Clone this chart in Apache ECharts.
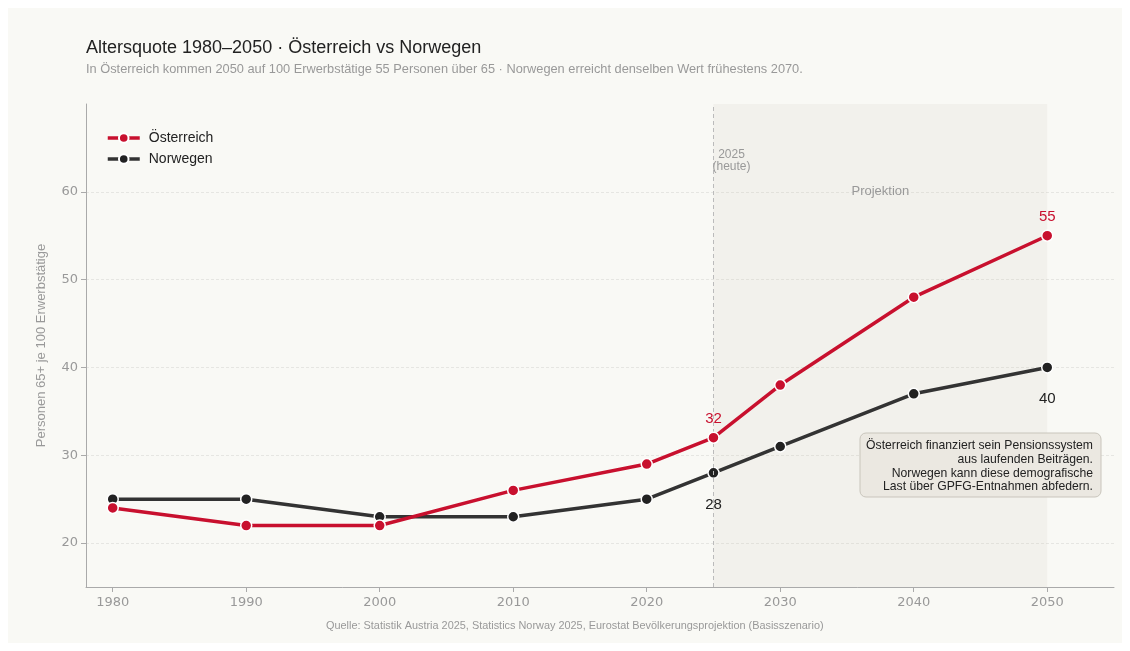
<!DOCTYPE html>
<html>
<head>
<meta charset="utf-8">
<script src="https://cdn.jsdelivr.net/npm/echarts@6/dist/echarts.min.js"></script>
<style>
html,body{margin:0;padding:0;background:#fff;}
#c{width:1130px;height:651px;}
</style>
</head>
<body>
<div id="c"></div>
<script>
const years = [1980, 1990, 2000, 2010, 2020, 2025, 2030, 2040, 2050];
const oesterreich = [24, 22, 22, 26, 29, 32, 38, 48, 55];
const norwegen = [25, 25, 23, 23, 25, 28, 31, 37, 40];
const xTicks = [1980, 1990, 2000, 2010, 2020, 2030, 2040, 2050];
const yTicks = [20, 30, 40, 50, 60];
const labelYearsAT = [2025, 2050];
const labelYearsNO = [2025, 2050];
const projStart = 2025, projEnd = 2050;
const noteLines = [
  'Österreich finanziert sein Pensionssystem',
  'aus laufenden Beiträgen.',
  'Norwegen kann diese demografische',
  'Last über GPFG-Entnahmen abfedern.'
];

const RED = '#c8102e', DARK = '#333333';
const SANS = '"Liberation Sans", Arial, sans-serif';
const TICKF = '"DejaVu Sans", sans-serif';

function mkData(vals, labelYears, color, above) {
  return years.map((y, i) => {
    const d = { value: [y, vals[i]] };
    if (labelYears.includes(y)) {
      d.label = {
        show: true, position: above ? 'top' : 'bottom',
        distance: above ? 5 : 18,
        formatter: String(vals[i]), color: color,
        fontSize: 15, fontFamily: SANS
      };
    }
    return d;
  });
}

const noteGraphics = [
  { type: 'rect', shape: { x: 860, y: 433, width: 241, height: 64, r: 6 },
    style: { fill: '#ebe8e1', stroke: '#c9c5bc', lineWidth: 1 }, z: 50, silent: true }
].concat(noteLines.map((t, i) => ({
  type: 'text', right: 37, top: 440 + i * 13.7, z: 51,
  style: { text: t, fill: '#222', font: '12.2px ' + SANS }
})));

const chart = echarts.init(document.getElementById('c'));
chart.setOption({
  backgroundColor: '#ffffff',
  animation: false,
  graphic: [
    { type: 'rect', shape: { x: 8, y: 8, width: 1114, height: 635 }, style: { fill: '#f9f9f5' }, z: -100, silent: true },
    { type: 'text', left: 86, top: 39, style: { text: 'Altersquote 1980–2050 · Österreich vs Norwegen', fill: '#222', font: '18px ' + SANS } },
    { type: 'text', left: 86, top: 63, style: { text: 'In Österreich kommen 2050 auf 100 Erwerbstätige 55 Personen über 65 · Norwegen erreicht denselben Wert frühestens 2070.', fill: '#999', font: '12.8px ' + SANS } },
    { type: 'text', left: 326, top: 620, style: { text: 'Quelle: Statistik Austria 2025, Statistics Norway 2025, Eurostat Bevölkerungsprojektion (Basisszenario)', fill: '#999', font: '10.9px ' + SANS } }
  ].concat(noteGraphics),
  legend: {
    left: 101, top: 126, orient: 'vertical', itemGap: 7,
    itemWidth: 32, itemHeight: 12,
    lineStyle: { width: 3.5 },
    textStyle: { fontSize: 14, fontFamily: SANS, color: '#222', padding: [0, 0, 0, 4] },
    data: ['Österreich', 'Norwegen']
  },
  grid: { left: 86, right: 16, top: 104, bottom: 64 },
  xAxis: {
    type: 'value', min: 1978, max: 2055,
    axisLine: { show: true, lineStyle: { color: '#aaa', width: 1 } },
    axisTick: { show: true, length: 5, lineStyle: { color: '#aaa' }, customValues: xTicks },
    axisLabel: { customValues: xTicks, color: '#999', fontSize: 13, fontFamily: TICKF, margin: 9, formatter: v => String(v) },
    splitLine: { show: false }
  },
  yAxis: {
    type: 'value', min: 15, max: 70,
    name: 'Personen 65+ je 100 Erwerbstätige', nameLocation: 'middle', nameGap: 38,
    nameTextStyle: { color: '#999', fontSize: 13, fontFamily: SANS },
    axisLine: { show: true, lineStyle: { color: '#aaa', width: 1 } },
    axisTick: { show: true, length: 5, lineStyle: { color: '#aaa' }, customValues: yTicks },
    axisLabel: { customValues: yTicks, color: '#999', fontSize: 13, fontFamily: TICKF, margin: 8 },
    splitLine: { show: true, lineStyle: { color: '#e6e6e2', type: [3, 2], width: 1 } }
  },
  series: [
    {
      name: 'Österreich', type: 'line', z: 5,
      data: mkData(oesterreich, labelYearsAT, RED, true),
      symbol: 'circle', symbolSize: 11,
      lineStyle: { color: RED, width: 3.5 },
      itemStyle: { color: RED, borderColor: '#fff', borderWidth: 1.5 },
      markArea: {
        silent: true,
        itemStyle: { color: 'rgba(200,190,175,0.12)' },
        label: { show: false },
        data: [[{ xAxis: projStart }, { xAxis: projEnd }]]
      },
      markLine: {
        silent: true, symbol: 'none',
        lineStyle: { color: '#bbb', type: [4, 3], width: 1 },
        label: { show: false },
        data: [{ xAxis: projStart }]
      }
    },
    {
      name: 'Norwegen', type: 'line', z: 4,
      data: mkData(norwegen, labelYearsNO, '#222', false),
      symbol: 'circle', symbolSize: 11,
      lineStyle: { color: DARK, width: 3.5 },
      itemStyle: { color: '#222', borderColor: '#fff', borderWidth: 1.5 },
      markPoint: {
        silent: true, symbol: 'rect', symbolSize: 0,
        data: [
          { coord: [2026.35, 63.6], label: { show: true, formatter: '2025\n(heute)', color: '#999', fontSize: 12, fontFamily: SANS, lineHeight: 12, position: 'inside' } },
          { coord: [2037.5, 60.0], label: { show: true, formatter: 'Projektion', color: '#999', fontSize: 13, fontFamily: SANS, position: 'inside' } }
        ]
      }
    }
  ]
});
</script>
</body>
</html>
